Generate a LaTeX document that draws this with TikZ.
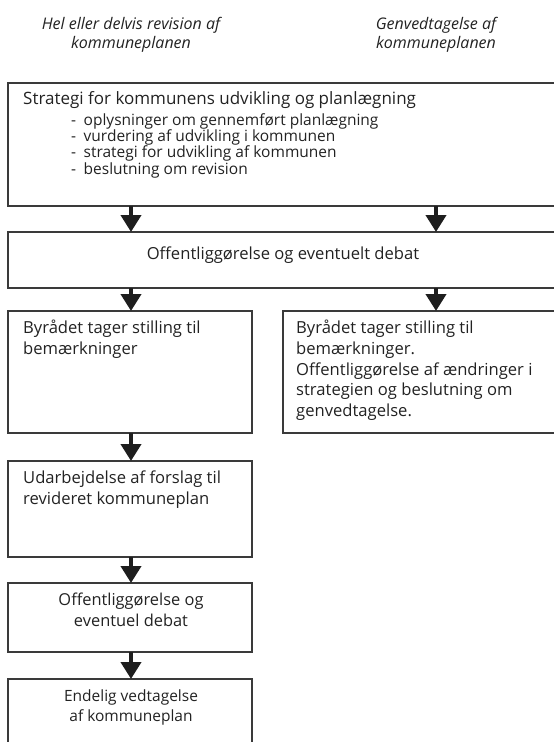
\documentclass[tikz,border=0pt]{standalone}
\usepackage{fontspec}
\setmainfont{Open Sans}
\usetikzlibrary{arrows.meta}
\definecolor{boxline}{HTML}{3A3A3A}
\definecolor{arrowc}{HTML}{1E1E1E}
\definecolor{txt}{HTML}{222222}
\begin{document}
\begin{tikzpicture}[x=1pt,y=-1pt,
  box/.style={draw=boxline, line width=1.4pt, rectangle, inner sep=0pt, outer sep=0pt, anchor=north west},
  arr/.style={draw=arrowc, line width=4pt, -{Triangle[width=20pt,length=17pt]}},
  lbl/.style={inner sep=0pt, text=txt, font=\fontsize{16.6}{20.7}\selectfont},
  head/.style={inner sep=0pt, text=txt, align=center, font=\fontsize{16}{19.5}\selectfont\itshape},
]
\useasboundingbox (0,0) rectangle (554,742);
\clip (0,0) rectangle (554,742);
% columns
\coordinate (cL) at (131,0);
\coordinate (cR) at (436,0);
% headings
\node[head, anchor=north] (hL) at (131,17) {Hel eller delvis revision af\\kommuneplanen};
\node[head, anchor=north] (hR) at (436,17) {Genvedtagelse af\\kommuneplanen};
% boxes
\node[box, minimum width=560pt, minimum height=123pt] (strat) at (8,83) {};
\node[box, minimum width=560pt, minimum height=56pt] (off1) at (8,232) {};
\node[box, minimum width=244pt, minimum height=122pt] (byL) at (8,311) {};
\node[box, minimum width=280pt, minimum height=122pt] (byR) at (283,311) {};
\node[box, minimum width=244pt, minimum height=96pt] (udarb) at (8,461) {};
\node[box, minimum width=244pt, minimum height=69pt] (off2) at (8,583) {};
\node[box, minimum width=244pt, minimum height=90pt] (endel) at (8,679) {};
% texts
\node[lbl, anchor=mid west, font=\fontsize{17}{20}\selectfont] (t1) at (23,102) {Strategi for kommunens udvikling og planlægning};
\node[lbl, anchor=north west, align=left, font=\fontsize{15.5}{16.4}\selectfont] (t1list) at (71,113)
  {\makebox[12.5pt][l]{-}oplysninger om gennemført planlægning\\
   \makebox[12.5pt][l]{-}vurdering af udvikling i kommunen\\
   \makebox[12.5pt][l]{-}strategi for udvikling af kommunen\\
   \makebox[12.5pt][l]{-}beslutning om revision};
\node[lbl, anchor=mid] (t2) at (283,257) {Offentliggørelse og eventuelt debat};
\node[lbl, anchor=north west, align=left] (t3) at (23,320) {Byrådet tager stilling til\\bemærkninger};
\node[lbl, anchor=north west, align=left] (t4) at (296,320) {Byrådet tager stilling til\\bemærkninger.\\Offentliggørelse af ændringer i\\strategien og beslutning om\\genvedtagelse.};
\node[lbl, anchor=north west, align=left] (t5) at (23,471) {Udarbejdelse af forslag til\\revideret kommuneplan};
\node[lbl, anchor=north, align=center, font=\fontsize{16.4}{21}\selectfont] (t6) at (131,593) {Offentliggørelse og\\eventuel debat};
\node[lbl, anchor=north, align=center, font=\fontsize{15.5}{20.5}\selectfont] (t7) at (131,689.5) {Endelig vedtagelse\\af kommuneplan};
% arrows
\draw[arr] (strat.south -| cL) -- (off1.north -| cL);
\draw[arr] (strat.south -| cR) -- (off1.north -| cR);
\draw[arr] (off1.south -| cL) -- (byL.north -| cL);
\draw[arr] (off1.south -| cR) -- (byR.north -| cR);
\draw[arr] (byL.south -| cL) -- (udarb.north -| cL);
\draw[arr] (udarb.south -| cL) -- (off2.north -| cL);
\draw[arr] (off2.south -| cL) -- (endel.north -| cL);
\end{tikzpicture}
\end{document}
